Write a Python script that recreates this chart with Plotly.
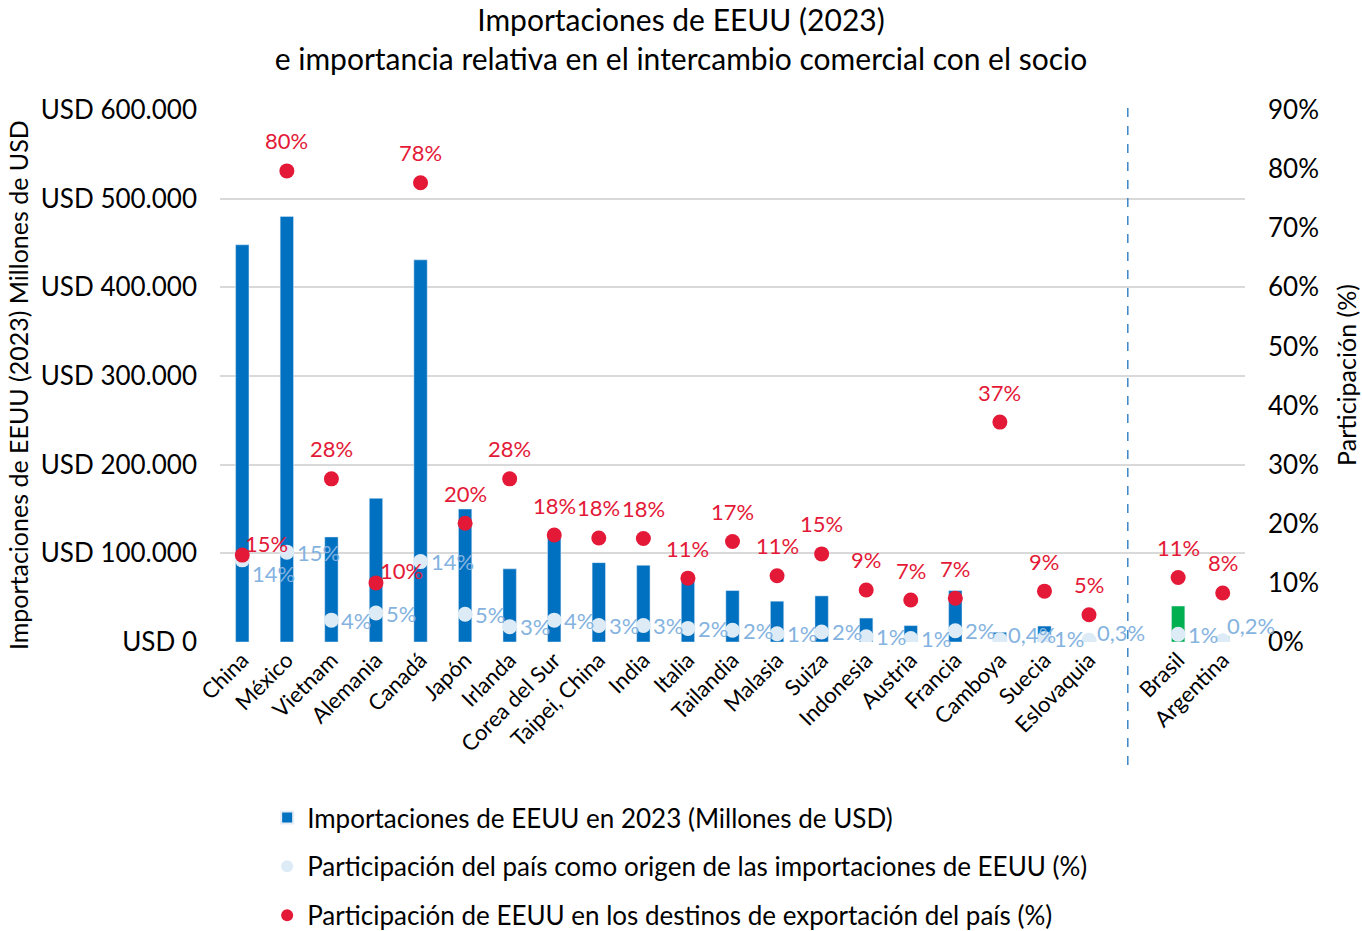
import plotly.graph_objects as go

paises = ["China", "México", "Vietnam", "Alemania", "Canadá", "Japón", "Irlanda",
          "Corea del Sur", "Taipei, China", "India", "Italia", "Tailandia", "Malasia",
          "Suiza", "Indonesia", "Austria", "Francia", "Camboya", "Suecia", "Eslovaquia",
          "Brasil", "Argentina"]
posiciones = list(range(20)) + [21, 22]
importaciones = [448000, 480000, 118500, 162000, 431000, 150000, 82500, 118500, 89500,
                 86500, 73500, 58000, 46000, 52000, 27000, 18500, 58000, 11000, 18000,
                 4000, 40600, 6400]
part_origen = [13.9, 15.2, 3.7, 4.9, 13.6, 4.7, 2.6, 3.7, 2.8, 2.8, 2.3, 2.0, 1.4, 1.7,
               0.9, 0.6, 1.9, 0.4, 0.6, 0.3, 1.3, 0.2]
part_destino = [14.7, 79.7, 27.6, 10.0, 77.7, 20.1, 27.6, 18.1, 17.6, 17.5, 10.8, 17.0,
                11.2, 14.9, 8.8, 7.1, 7.4, 37.2, 8.6, 4.6, 10.9, 8.3]
y_ticks = [0, 100000, 200000, 300000, 400000, 500000, 600000]
y_ticktext = ["USD 0", "USD 100.000", "USD 200.000", "USD 300.000", "USD 400.000",
              "USD 500.000", "USD 600.000"]
y2_ticks = [0, 10, 20, 30, 40, 50, 60, 70, 80, 90]
y2_ticktext = [f"{v}%" for v in y2_ticks]

FONT = "Lato"
BLUE = "#0070C0"
GREEN = "#00B050"
RED = "#E31937"
LIGHT = "#DDEBF7"
LABEL_BLUE = "#85B3E0"

def fmt(v):
    if v >= 0.5:
        return f"{round(v)}%"
    return f"{v:.1f}%".replace(".", ",")

bar_colors = [GREEN if p in ("Brasil", "Argentina") else BLUE for p in paises]

fig = go.Figure()
fig.add_trace(go.Bar(
    x=posiciones, y=importaciones, marker_color=bar_colors, width=0.3,
    name="Importaciones de EEUU en 2023 (Millones de USD)", legendgroup="a",
    yaxis="y"))
fig.add_trace(go.Scatter(
    x=posiciones, y=part_origen, mode="markers",
    marker=dict(color=LIGHT, size=15),
    name="Participación del país como origen de las importaciones de EEUU (%)",
    legendgroup="b", yaxis="y2"))
fig.add_trace(go.Scatter(
    x=posiciones, y=part_destino, mode="markers",
    marker=dict(color=RED, size=15),
    name="Participación de EEUU en los destinos de exportación del país (%)",
    legendgroup="c", yaxis="y2"))

red_shift = {"China": (24, 12), "Alemania": (26, 12)}
blue_shift = {"China": (8, -14), "Argentina": (2, 15), "Eslovaquia": (6, 8),
              "Camboya": (6, 5)}
annotations = []
for p, x, vo, vd in zip(paises, posiciones, part_origen, part_destino):
    xs, ys = red_shift.get(p, (0, 30))
    annotations.append(dict(x=x, y=vd, xref="x", yref="y2", text=fmt(vd), showarrow=False,
                            xshift=xs, yshift=ys, font=dict(family=FONT, size=22, color=RED)))
    bxs, bys = blue_shift.get(p, (8, 0))
    annotations.append(dict(x=x, y=vo, xref="x", yref="y2", text=fmt(vo), showarrow=False,
                            xanchor="left", xshift=bxs, yshift=bys,
                            font=dict(family=FONT, size=22, color=LABEL_BLUE)))

annotations.append(dict(x=-0.197, y=0.483, xref="paper", yref="paper", textangle=-90,
                        xanchor="center", yanchor="middle",
                        text="Importaciones de EEUU (2023) Millones de USD", showarrow=False,
                        font=dict(family=FONT, size=25, color="black")))
annotations.append(dict(x=1.0985, y=0.502, xref="paper", yref="paper", textangle=-90,
                        xanchor="center", yanchor="middle",
                        text="Participación (%)", showarrow=False,
                        font=dict(family=FONT, size=25, color="black")))

fig.add_shape(type="line", x0=19.87, x1=19.87, xref="x", y0=-0.231, y1=1.0056, yref="paper",
              line=dict(color="#3A86C8", width=1.5, dash="dash"))

fig.update_layout(
    width=1362, height=931,
    paper_bgcolor="white", plot_bgcolor="white",
    margin=dict(l=220, r=117, t=110, b=289, autoexpand=False),
    font=dict(family=FONT, color="black"),
    title=dict(text="Importaciones de EEUU (2023)<br>e importancia relativa en el intercambio comercial con el socio",
               x=0.5, xanchor="center", y=0.9668, yanchor="middle", yref="container",
               font=dict(family=FONT, size=30, color="black")),
    bargap=0.7,
    showlegend=True,
    legend=dict(orientation="v", x=0.046, xanchor="left", y=-0.286, yanchor="top",
                font=dict(family=FONT, size=26, color="black"), tracegroupgap=12,
                itemsizing="constant"),
    annotations=annotations,
    xaxis=dict(range=[-0.5, 22.5], tickvals=posiciones, ticktext=paises, tickangle=-45,
               tickfont=dict(family=FONT, size=22, color="black"), showgrid=False,
               zeroline=False, showline=False, ticks=""),
    yaxis=dict(range=[0, 600000], tickvals=y_ticks, ticktext=y_ticktext,
               tickfont=dict(family=FONT, size=26, color="black"), showgrid=True,
               gridcolor="#D9D9D9", gridwidth=2, zeroline=False, ticklabelstandoff=22),
    yaxis2=dict(range=[0, 90], tickvals=y2_ticks, ticktext=y2_ticktext, overlaying="y",
                side="right", showgrid=False, zeroline=False,
                tickfont=dict(family=FONT, size=26, color="black"), ticklabelstandoff=22),
)

fig.write_html("out.html", config={"displayModeBar": False},
               post_script="document.body.style.margin='0';")
